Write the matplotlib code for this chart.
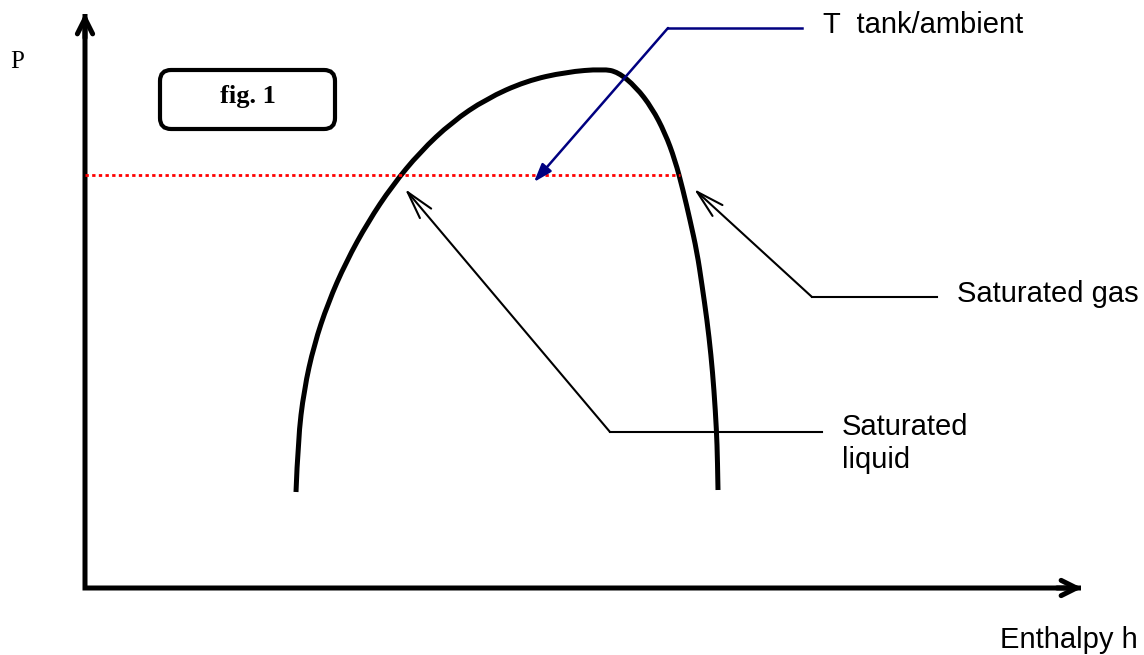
import matplotlib
matplotlib.use("Agg")
import matplotlib.pyplot as plt
from matplotlib.patches import FancyBboxPatch, PathPatch
from matplotlib.path import Path

# ---- data (diagram coordinates: enthalpy to the right, pressure drawn on an inverted axis) ----
# saturation dome: liquid branch (bottom-left up to the top), then gas branch
dome_h = [296, 298, 304, 314, 328, 346, 368, 392, 420, 452, 486, 526, 566, 603,
          618, 636, 652, 665, 675, 683, 690, 697, 702, 707, 711, 714, 716.5, 717.5, 718]
dome_p = [492, 440, 390, 345, 303, 262, 222, 186, 152, 122, 99, 81, 72, 69,
          72, 87, 108, 133, 160, 190, 220, 252, 285, 320, 355, 390, 430, 460, 490]

axis_origin = (85, 588)
axis_y_top = 13
axis_x_right = 1082

tank_p = 175
tank_h_range = [85, 680]

tank_leader_h = [802, 668]
tank_leader_p = [28, 28]
tank_arrow_tip = (534, 182)

gas_leader_h = [937, 812]
gas_leader_p = [297, 297]
gas_arrow_tip = (694, 189)

liq_leader_h = [822, 610]
liq_leader_p = [432, 432]
liq_arrow_tip = (405, 189)

labels = {
    "tank": "T  tank/ambient",
    "gas": "Saturated gas",
    "liq1": "Saturated",
    "liq2": "liquid",
    "x": "Enthalpy h",
    "y": "P",
    "fig": "fig. 1",
}

W, H = 1144, 655
fig = plt.figure(figsize=(W / 100, H / 100), dpi=100)
ax = fig.add_axes([0, 0, 1, 1])
ax.set_xlim(0, W)
ax.set_ylim(H, 0)
ax.axis("off")

sans = ["Liberation Sans", "DejaVu Sans"]
serif = ["Liberation Serif", "DejaVu Serif"]

# axes lines with a square corner
ax_line, = ax.plot([axis_origin[0], axis_origin[0], axis_x_right - 1],
                   [axis_y_top + 1, axis_origin[1], axis_origin[1]],
                   color="black", lw=3.6, solid_joinstyle="miter", solid_capstyle="butt")
ax_line.set_snap(False)
ax_arrow = dict(arrowstyle="->,head_length=11,head_width=5.5", lw=3.6, color="black",
                shrinkA=0, shrinkB=0, mutation_scale=1, joinstyle="round", capstyle="round",
                snap=False)
ax.annotate("", xy=(axis_origin[0], axis_y_top), xytext=(axis_origin[0], axis_y_top + 25),
            arrowprops=ax_arrow)
ax.annotate("", xy=(axis_x_right, axis_origin[1]), xytext=(axis_x_right - 25, axis_origin[1]),
            arrowprops=ax_arrow)

# dome: smooth quadratic spline guided by the read points
pts = list(zip(dome_h, dome_p))
verts = [pts[0]]
codes = [Path.MOVETO]
n = len(pts)
for i in range(1, n - 1):
    ctrl = pts[i]
    if i == n - 2:
        end = pts[i + 1]
    else:
        end = ((pts[i][0] + pts[i + 1][0]) / 2, (pts[i][1] + pts[i + 1][1]) / 2)
    verts += [ctrl, end]
    codes += [Path.CURVE3, Path.CURVE3]
ax.add_patch(PathPatch(Path(verts, codes), fc="none", ec="black", lw=3.6,
                       joinstyle="round", capstyle="butt"))

# tank line
ax.plot(tank_h_range, [tank_p, tank_p], color="red", lw=2.0, linestyle=(0, (1.2, 1.2)))

# tank leader (navy)
ax.plot(tank_leader_h, tank_leader_p, color="#000080", lw=1.8)
ax.annotate("", xy=tank_arrow_tip, xytext=(tank_leader_h[-1], tank_leader_p[-1]),
            arrowprops=dict(arrowstyle="-|>,head_length=11,head_width=3.8", lw=1.8,
                            color="#000080", shrinkA=0, shrinkB=0, mutation_scale=1))

open_arrow = dict(arrowstyle="->,head_length=20,head_width=5.3", lw=1.5, color="black",
                  shrinkA=0, shrinkB=0, mutation_scale=1)
# gas leader
ax.plot(gas_leader_h, gas_leader_p, color="black", lw=1.5)
ax.annotate("", xy=gas_arrow_tip, xytext=(gas_leader_h[-1], gas_leader_p[-1]), arrowprops=open_arrow)
# liquid leader
ax.plot(liq_leader_h, liq_leader_p, color="black", lw=1.5)
ax.annotate("", xy=liq_arrow_tip, xytext=(liq_leader_h[-1], liq_leader_p[-1]), arrowprops=open_arrow)

# texts
fs = 21
ax.text(823, 33, labels["tank"], family=sans, fontsize=fs, va="baseline", ha="left")
ax.text(957, 302, labels["gas"], family=sans, fontsize=fs, va="baseline", ha="left")
ax.text(842, 435, labels["liq1"], family=sans, fontsize=fs, va="baseline", ha="left")
ax.text(842, 468, labels["liq2"], family=sans, fontsize=fs, va="baseline", ha="left")
ax.text(1000, 648, labels["x"], family=sans, fontsize=fs, va="baseline", ha="left")
ax.text(10, 68, labels["y"], family=serif, fontsize=18, va="baseline", ha="left")

# fig. 1 box
box = FancyBboxPatch((160, 70), 175, 59, boxstyle="round,pad=0,rounding_size=11",
                     fc="white", ec="black", lw=3.0)
ax.add_patch(box)
ax.text(247.5, 103, labels["fig"], family=serif, fontsize=19, fontweight="bold",
        va="baseline", ha="center")

fig.savefig("out.png", dpi=100)
